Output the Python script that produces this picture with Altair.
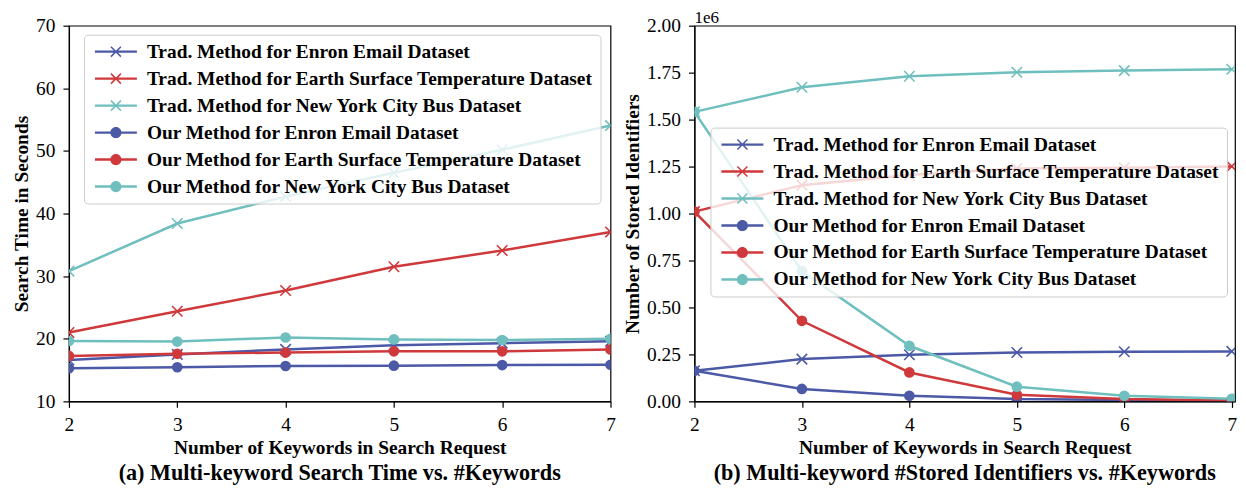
import altair as alt
import pandas as pd

FONT = "Liberation Serif"
FS = 19.4

keywords = [2, 3, 4, 5, 6, 7]

series_names = [
    "Trad. Method for Enron Email Dataset",
    "Trad. Method for Earth Surface Temperature Dataset",
    "Trad. Method for New York City Bus Dataset",
    "Our Method for Enron Email Dataset",
    "Our Method for Earth Surface Temperature Dataset",
    "Our Method for New York City Bus Dataset",
]
series_methods = ["Trad", "Trad", "Trad", "Our", "Our", "Our"]
series_colors = ["#4B59A7", "#D0393B", "#6FBFBF", "#4B59A7", "#D0393B", "#6FBFBF"]

# (a) search time in seconds
time_trad_enron = [16.6, 17.5, 18.3, 18.95, 19.3, 19.6]
time_trad_earth = [21.0, 24.4, 27.7, 31.5, 34.1, 37.05]
time_trad_nyc = [30.8, 38.4, 42.7, 46.5, 50.2, 54.05]
time_our_enron = [15.3, 15.45, 15.65, 15.7, 15.8, 15.85]
time_our_earth = [17.25, 17.6, 17.8, 18.0, 18.0, 18.3]
time_our_nyc = [19.65, 19.55, 20.2, 19.9, 19.8, 20.0]

# (b) number of stored identifiers
ids_trad_enron = [163000, 225000, 248000, 260000, 264000, 266000]
ids_trad_earth = [1010000, 1151000, 1205000, 1240000, 1244000, 1251000]
ids_trad_nyc = [1541000, 1672000, 1731000, 1752000, 1761000, 1768000]
ids_our_enron = [163000, 66000, 30000, 12000, 7000, 4000]
ids_our_earth = [1010000, 429000, 154000, 35000, 12000, 5000]
ids_our_nyc = [1541000, 694000, 296000, 78000, 30000, 14000]

time_ticks = [10, 20, 30, 40, 50, 60, 70]
ids_ticks = [0, 250000, 500000, 750000, 1000000, 1250000, 1500000, 1750000, 2000000]

# legend symbols: line + marker, all filled shapes (unit = 10 px at symbolSize 400)
LINE = "M-2.1,-0.12L-2.1,0.12L2.1,0.12L2.1,-0.12Z"
XMARK = ("M-0.553,-0.447L0.447,0.553L0.553,0.447L-0.447,-0.553Z"
         "M-0.447,0.553L0.553,-0.447L0.447,-0.553L-0.553,0.447Z")
DOT = "M-0.56,0A0.56,0.56 0 1,0 0.56,0A0.56,0.56 0 1,0 -0.56,0Z"
legend_shapes = [LINE + XMARK] * 3 + [LINE + DOT] * 3

X_PLOT = "M-1,-1L1,1M-1,1L1,-1"


def long_frame(values):
    rows = []
    for name, method, col, vals in zip(series_names, series_methods, series_colors, values):
        for k, v in zip(keywords, vals):
            rows.append({"series": name, "method": method, "col": col, "k": k, "v": v})
    return pd.DataFrame(rows)


df_time = long_frame([time_trad_enron, time_trad_earth, time_trad_nyc,
                      time_our_enron, time_our_earth, time_our_nyc])
df_ids = long_frame([ids_trad_enron, ids_trad_earth, ids_trad_nyc,
                     ids_our_enron, ids_our_earth, ids_our_nyc])


def make_legend(lx, ly):
    return alt.Legend(
        title=None, orient="none", legendX=lx, legendY=ly, direction="vertical",
        fillColor="rgba(255,255,255,0.8)", strokeColor="#cccccc", cornerRadius=4,
        padding=7, labelFont=FONT, labelFontSize=FS, labelFontWeight="bold",
        labelColor="black", labelLimit=1000, symbolSize=400, symbolStrokeWidth=0,
        symbolOffset=15, labelOffset=21, rowPadding=7, symbolOpacity=1,
    )


def panel(df, xmax, width, ydomain, yticks, ytitle, label_expr, lxy, caption,
          offset_text=None):
    x = alt.X("k:Q", scale=alt.Scale(domain=[2, xmax], nice=False, zero=False),
              axis=alt.Axis(values=keywords, format="d",
                            title="Number of Keywords in Search Request", titlePadding=5))
    yaxis = dict(values=yticks, title=ytitle, titlePadding=4)
    if label_expr:
        yaxis["labelExpr"] = label_expr
    else:
        yaxis["format"] = "d"
    y = alt.Y("v:Q", scale=alt.Scale(domain=ydomain, nice=False, zero=False),
              axis=alt.Axis(**yaxis))
    color = alt.Color("col:N", scale=None)
    base = alt.Chart(df)
    trad = base.transform_filter(alt.datum.method == "Trad")
    our = base.transform_filter(alt.datum.method == "Our")
    layers = [
        trad.mark_line(strokeWidth=2.5, clip=True).encode(
            x=x, y=y, color=color, detail="series:N"),
        trad.mark_point(shape=X_PLOT, filled=False, size=110, strokeWidth=1.6,
                        opacity=1, clip=True).encode(x=x, y=y, color=color),
        our.mark_line(strokeWidth=2.5, clip=True).encode(
            x=x, y=y, color=color, detail="series:N"),
        our.mark_point(shape="circle", filled=True, size=115, opacity=1,
                       clip=True).encode(x=x, y=y, color=color),
    ]
    leg = make_legend(*lxy)
    layers.append(
        base.transform_filter("false").mark_point(filled=True, opacity=1).encode(
            x=x, y=y,
            color=alt.Color("series:N",
                            scale=alt.Scale(domain=series_names, range=series_colors),
                            legend=leg),
            shape=alt.Shape("series:N",
                            scale=alt.Scale(domain=series_names, range=legend_shapes),
                            legend=leg),
        )
    )
    if offset_text:
        tdf = pd.DataFrame({"k": [2], "v": [ydomain[1]], "t": [offset_text]})
        layers.append(
            alt.Chart(tdf).mark_text(align="left", baseline="alphabetic", dy=-3,
                                     font=FONT, fontSize=17, color="black").encode(
                x=x, y=y, text="t:N")
        )
    return alt.layer(*layers).properties(
        width=width, height=376,
        title=alt.TitleParams(caption, orient="bottom", anchor="middle", frame="group",
                              font=FONT, fontSize=22.2, fontWeight="bold", color="black",
                              offset=5),
    )


left = panel(df_time, 7, 542, [10, 70], time_ticks, "Search Time in Seconds", None,
             (15, 9), "(a) Multi-keyword Search Time vs. #Keywords")
right = panel(df_ids, 7.03, 541, [0, 2000000], ids_ticks, "Number of Stored Identifiers",
              "format(datum.value / 1000000, '.2f')", (16, 102),
              "(b) Multi-keyword #Stored Identifiers vs. #Keywords", offset_text="1e6")

chart = alt.hconcat(left, right, spacing=84, bounds="flush").resolve_scale(
    color="independent", shape="independent"
).resolve_legend(
    color="independent", shape="independent"
).configure_view(
    stroke="black", strokeWidth=1.2
).configure_axis(
    labelFont=FONT, labelFontSize=FS, labelColor="black", titleFont=FONT,
    titleFontSize=FS, titleFontWeight="bold", titleColor="black", tickColor="black",
    tickSize=6, tickWidth=1.2, domainColor="black", domainWidth=1.2, grid=False,
    labelPadding=8, labelFlush=False, labelOverlap=False, zindex=1,
).properties(
    padding={"left": 3, "top": -0.5, "right": 0, "bottom": 0},
    background="white",
)

chart.save("out.html", embed_options={"renderer": "svg", "actions": False})
